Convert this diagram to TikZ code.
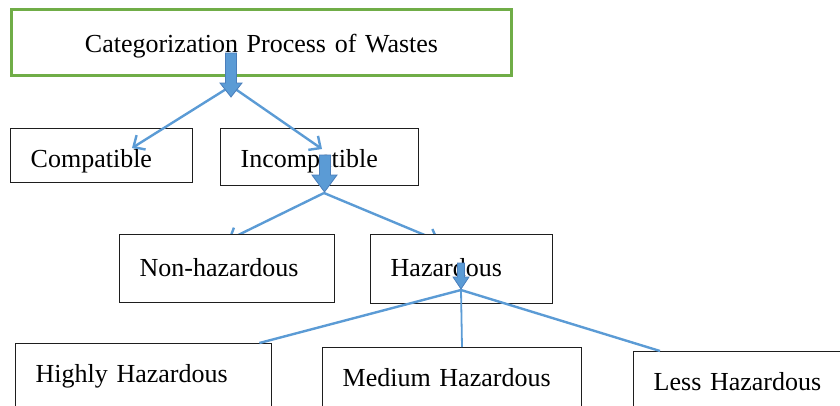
\documentclass[tikz,border=0pt]{standalone}
\usepackage{fontspec}
\setmainfont{Liberation Serif}
\usetikzlibrary{arrows.meta}
\definecolor{leafgreen}{HTML}{70AD47}
\definecolor{linkblue}{HTML}{5B9BD5}
\definecolor{arrowedge}{HTML}{4A7EBB}
\definecolor{boxline}{HTML}{1E1E1E}
\pgfdeclarelayer{background}
\pgfsetlayers{background,main}
\begin{document}
\begin{tikzpicture}[x=1pt,y=-1pt,
      box/.style={draw=boxline,line width=1.4pt,fill=white,anchor=north west,align=left,
                  inner xsep=20pt,inner ysep=0pt,text height=39pt,font=\fontsize{26}{30}\selectfont},
      rootbox/.style={draw=leafgreen,line width=3pt,fill=white,anchor=north west,align=center,
                  inner sep=0pt,text width=500pt,text height=43pt,text depth=23pt,
                  font=\fontsize{26}{30}\selectfont},
      link/.style={draw=linkblue,line width=2.4pt},
      tiplink/.style={link,-{Straight Barb[length=9pt,width=17pt]}},
      blockarrow/.style={fill=linkblue,draw=arrowedge,line width=.8pt}]
    \clip (0,0) rectangle (840,405);
    \node[rootbox] (root) at (10,8) {Categorization Process of Wastes};
    \node[box,text width=142pt,text depth=15pt] (compat) at (10,128) {Compatible};
    \node[box,text width=158pt,text depth=18pt] (incompat) at (220,128) {Incompatible};
    \node[box,text width=175pt,text height=42pt,text depth=26pt] (nonhaz) at (119,234) {Non-hazardous};
    \node[box,text width=142pt,text height=42pt,text depth=27pt] (haz) at (370,234) {Hazardous};
    \node[box,text width=216pt,text depth=30pt] (high) at (15,343) {Highly Hazardous};
    \node[box,text width=219pt,text depth=30pt] (med) at (322,347) {Medium Hazardous};
    \node[box,text width=200pt,text depth=30pt] (less) at (633,351) {Less Hazardous};
    \coordinate (fork1) at (231,86);
    \coordinate (fork2) at (324,193);
    \coordinate (fork3) at (461,290);
    \draw[tiplink] (fork1) -- ([xshift=122pt,yshift=-20pt]compat.north west);
    \draw[tiplink] (fork1) -- ([xshift=102pt,yshift=-21pt]incompat.north west);
    \begin{pgfonlayer}{background}
    \draw[tiplink] (fork2) -- ([xshift=109pt,yshift=-6pt]nonhaz.north west);
    \draw[tiplink] (fork2) -- ([xshift=69pt,yshift=-7pt]haz.north west);
    \end{pgfonlayer}
    \draw[link] (fork3) -- ([xshift=-13pt]high.north east);
    \draw[link,line width=1.8pt] (fork3) -- ([xshift=140pt]med.north west);
    \draw[link] (fork3) -- ([xshift=27pt]less.north west);
    \filldraw[blockarrow] (225.5,53) -- (236.5,53) -- (236.5,83) -- (242,83) -- (231,97) -- (220,83) -- (225.5,83) -- cycle;
    \filldraw[blockarrow] (319.5,155) -- (330.5,155) -- (330.5,175) -- (337,175) -- (324.5,192) -- (312,175) -- (319.5,175) -- cycle;
    \filldraw[blockarrow] (457.5,263) -- (464.5,263) -- (464.5,277) -- (469,277) -- (461,289) -- (453,277) -- (457.5,277) -- cycle;
\end{tikzpicture}
\end{document}
